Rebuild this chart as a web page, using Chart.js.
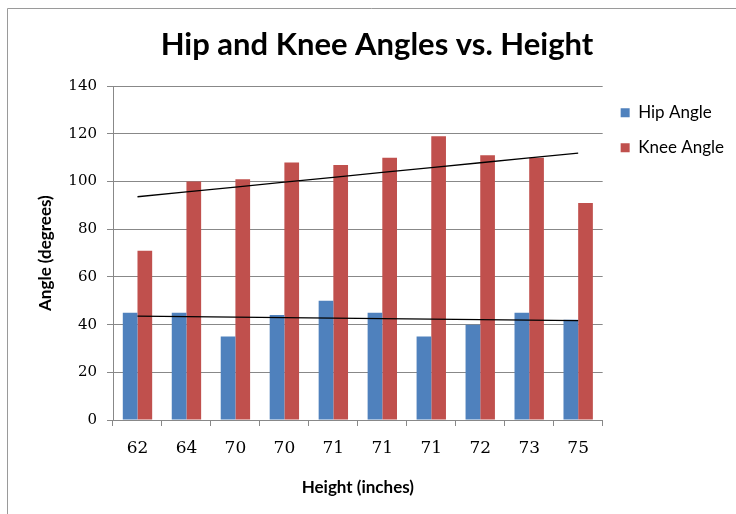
<!DOCTYPE html>
<html>
<head>
<meta charset="utf-8">
<script src="https://cdn.jsdelivr.net/npm/chart.js@4.4.1/dist/chart.umd.min.js"></script>
<style>
  html, body { margin: 0; padding: 0; background: #ffffff; }
  #wrap { position: relative; width: 736px; height: 514px; }
</style>
</head>
<body>
<div id="wrap"><canvas id="c" width="736" height="514"></canvas></div>
<script>
// ---- data ----
const heights = ['62', '64', '70', '70', '71', '71', '71', '72', '73', '75'];
const hipAngle = [45, 45, 35, 44, 50, 45, 35, 40, 45, 42];
const kneeAngle = [71, 100, 101, 108, 107, 110, 119, 111, 110, 91];
const yTicks = [0, 20, 40, 60, 80, 100, 120, 140];

// linear trendline (least squares over category index), as Excel draws it
function trend(vals) {
  const n = vals.length;
  let sx = 0, sy = 0, sxx = 0, sxy = 0;
  vals.forEach((v, i) => { const x = i + 1; sx += x; sy += v; sxx += x * x; sxy += x * v; });
  const b = (n * sxy - sx * sy) / (n * sxx - sx * sx);
  const a = (sy - b * sx) / n;
  return vals.map((v, i) => a + b * (i + 1));
}

const frame = {
  id: 'frame',
  beforeDraw(chart) {
    const ctx = chart.ctx;
    ctx.save();
    ctx.strokeStyle = '#9a9a9a';
    ctx.lineWidth = 1;
    ctx.beginPath();
    ctx.moveTo(7.5, 514);
    ctx.lineTo(7.5, 8.5);
    ctx.lineTo(736, 8.5);
    ctx.stroke();
    ctx.restore();
  }
};

const gridCol = '#888888';

new Chart(document.getElementById('c'), {
  type: 'bar',
  data: {
    labels: heights,
    datasets: [
      { label: 'Hip Angle', data: hipAngle, backgroundColor: '#4F81BD', order: 2,
        categoryPercentage: 0.6, barPercentage: 1.0 },
      { label: 'Knee Angle', data: kneeAngle, backgroundColor: '#C0504D', order: 2,
        categoryPercentage: 0.6, barPercentage: 1.0 },
      { type: 'line', label: 'trend-hip', data: trend(hipAngle), borderColor: '#000000',
        borderWidth: 1.3, pointRadius: 0, fill: false, order: 0, tension: 0 },
      { type: 'line', label: 'trend-knee', data: trend(kneeAngle), borderColor: '#000000',
        borderWidth: 1.3, pointRadius: 0, fill: false, order: 0, tension: 0 }
    ]
  },
  options: {
    responsive: false,
    animation: false,
    devicePixelRatio: 1,
    layout: { padding: { top: 8, left: 20, right: 2, bottom: 6 } },
    plugins: {
      tooltip: { enabled: false },
      title: {
        display: true,
        text: 'Hip and Knee Angles vs. Height',
        color: '#000',
        font: { family: 'Lato', size: 31, weight: 'bold' },
        padding: { top: 18, bottom: 23 }
      },
      legend: {
        position: 'right',
        align: 'start',
        fullSize: false,
        labels: {
          color: '#000',
          font: { family: 'Lato', size: 17 },
          boxWidth: 9, boxHeight: 9,
          padding: 18,
          filter: (item) => item.text.indexOf('trend') !== 0
        }
      }
    },
    scales: {
      x: {
        offset: true,
        grid: { display: true, drawOnChartArea: false, drawTicks: true, tickLength: 6,
                offset: true, color: gridCol },
        border: { display: true, color: gridCol },
        ticks: { color: '#000', font: { family: 'DejaVu Serif', size: 17 }, padding: 12 },
        title: { display: true, text: 'Height (inches)', color: '#000',
                 font: { family: 'Lato', size: 17, weight: 'bold' }, padding: { top: 0, bottom: 10 } },
        afterFit(s) { s.height = 88; }
      },
      y: {
        min: 0, max: 140,
        afterBuildTicks(s) { s.ticks = yTicks.map(v => ({ value: v })); },
        grid: { color: gridCol, tickLength: 6, drawTicks: true },
        border: { display: true, color: gridCol },
        ticks: { color: '#000', font: { family: 'DejaVu Serif', size: 15 }, padding: 10 },
        title: { display: true, text: 'Angle (degrees)', color: '#000',
                 font: { family: 'Lato', size: 17, weight: 'bold' }, padding: { top: 15, bottom: 0 } },
        afterFit(s) { s.width = 93; }
      }
    }
  },
  plugins: [frame]
});
</script>
</body>
</html>
